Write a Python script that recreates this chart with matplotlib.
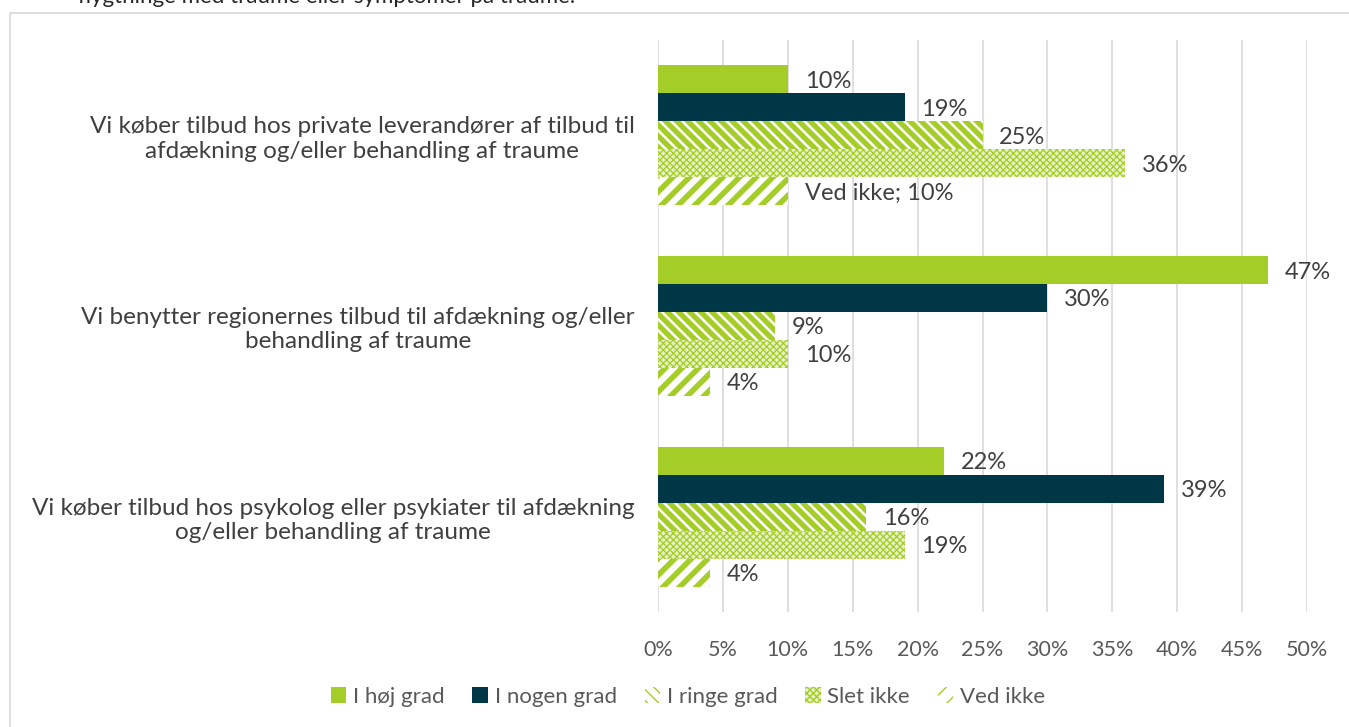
import numpy as np
import matplotlib.pyplot as plt
from matplotlib.patches import Rectangle

plt.rcParams['font.family'] = ['Lato', 'DejaVu Sans']

categories = [
    "Vi køber tilbud hos private leverandører af tilbud til\nafdækning og/eller behandling af traume",
    "Vi benytter regionernes tilbud til afdækning og/eller\nbehandling af traume",
    "Vi køber tilbud hos psykolog eller psykiater til afdækning\nog/eller behandling af traume",
]
series = ["I høj grad", "I nogen grad", "I ringe grad", "Slet ikke", "Ved ikke"]
hoej = [10, 47, 22]
nogen = [19, 30, 39]
ringe = [25, 9, 16]
slet = [36, 10, 19]
vedikke = [10, 4, 4]
values = [hoej, nogen, ringe, slet, vedikke]
xticks = [0, 5, 10, 15, 20, 25, 30, 35, 40, 45, 50]

green = '#a5cd28'
dark = '#003747'
styles = [
    dict(color=green),
    dict(color=dark),
    dict(facecolor='white', edgecolor=green, hatch='\\\\\\', linewidth=0),
    dict(facecolor='#e6f1c4', edgecolor=green, hatch='xxxxx', linewidth=0),
    dict(facecolor='white', edgecolor=green, hatch='//', linewidth=0),
]
hatch_lw = [1.0, 1.0, 3.8, 0.9, 4.0]

fig = plt.figure(figsize=(13.49, 7.27), dpi=100)
fig.patches.append(Rectangle((10 / 1349, -0.05), 1.1, (727 - 13) / 727 + 0.05,
                             transform=fig.transFigure, fill=False,
                             edgecolor='#d9d9d9', linewidth=1.2))
# title line above the frame, cut off at the top like in the source
fig.text(575 / 1349, 0.9959, "flygtninge med traume eller symptomer på traume.",
         ha='right', va='baseline', fontsize=16, color='#262626')

ax = fig.add_axes([658 / 1349, 115 / 727, 649 / 1349, 572 / 727])
y = np.arange(len(categories))
h = 0.1466
for i, (name, vals) in enumerate(zip(series, values)):
    pos = y + (i - 2) * h
    with plt.rc_context({'hatch.linewidth': hatch_lw[i]}):
        bars = ax.barh(pos, vals, height=h, label=name, **styles[i])
    for b in bars:
        if hasattr(b, 'set_hatch_linewidth'):
            b.set_hatch_linewidth(hatch_lw[i])
    for j, (p, v) in enumerate(zip(pos, vals)):
        txt = f"{v}%"
        if i == 4 and j == 0:
            txt = f"Ved ikke; {v}%"
        ax.text(v + 1.3, p + 0.01, txt, va='center', ha='left',
                fontsize=17, color='#404040')

ax.set_xlim(0, 50)
ax.set_ylim(2.5, -0.5)
ax.set_xticks(xticks)
ax.set_xticklabels([f"{t}%" for t in xticks], fontsize=15.5, color='#595959')
ax.set_yticks(y)
ax.set_yticklabels(categories, fontsize=17.5, color='#404040')
for lbl in ax.get_yticklabels():
    lbl.set_multialignment('center')
ax.tick_params(axis='y', length=0, pad=17)
ax.tick_params(axis='x', length=0, pad=20)
ax.grid(axis='x', color='#d9d9d9', linewidth=1.2)
ax.set_axisbelow(True)
for s in ax.spines.values():
    s.set_visible(False)

fig.legend(loc='center', bbox_to_anchor=(688 / 1349, 1 - 697 / 727), ncol=5,
           frameon=False, fontsize=16, handlelength=0.7, handleheight=0.7,
           columnspacing=1.25, handletextpad=0.3, labelcolor='#595959')

fig.savefig('out.png', dpi=100)
